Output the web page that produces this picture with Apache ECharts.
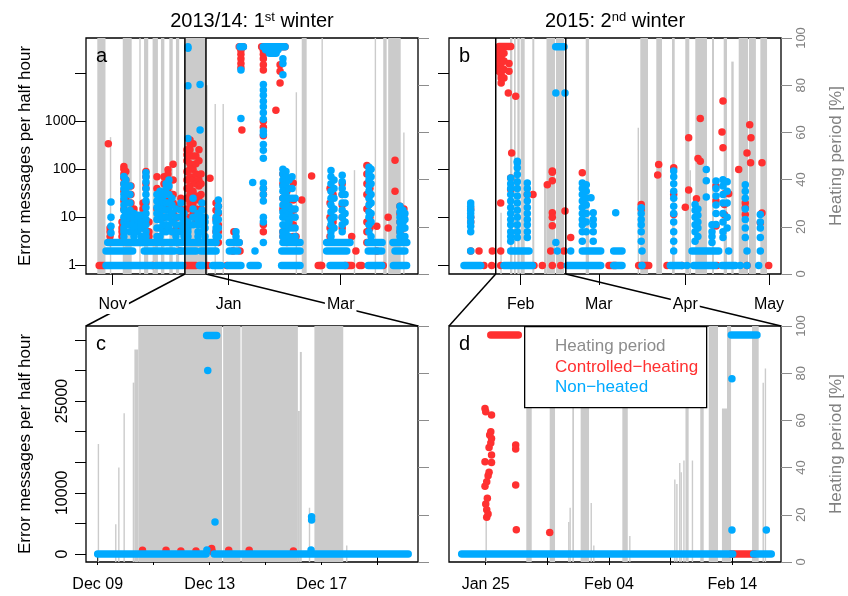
<!DOCTYPE html>
<html>
<head>
<meta charset="utf-8">
<script src="https://cdn.jsdelivr.net/npm/echarts@6/dist/echarts.min.js"></script>
<style>
  html, body { margin: 0; background: #fff; }
  #chart { width: 848px; height: 596px; }
</style>
</head>
<body>
<div id="chart"></div>
<script>
'use strict'

const DAY = 86400000
// every day number below is counted from one of these dates (UTC)
const baseA = Date.UTC(2013, 9, 1)   // panel a: days since 1 Oct 2013
const baseB = Date.UTC(2015, 0, 1)   // panel b: days since 1 Jan 2015
const baseC = Date.UTC(2013, 11, 9)  // panel c: days since 9 Dec 2013
const baseD = Date.UTC(2015, 0, 25)  // panel d: days since 25 Jan 2015

// axis windows (days) and the zoomed windows marked in a and b
const rangeA = [16.95, 191.7]
const rangeB = [5.3, 124.3]
const rangeC = [-0.418, 11.44]
const rangeD = [-2.98, 23.95]
const zoomA = [0, 11.1]      // in panel c days
const zoomB = [-1.95, 23.16] // in panel d days

const ticksA = ['2013-11-01', '2014-01-01', '2014-03-01']
const ticksB = ['2015-02-01', '2015-03-01', '2015-04-01', '2015-05-01']
const ticksC = ['2013-12-09', '2013-12-11', '2013-12-13', '2013-12-15', '2013-12-17', '2013-12-19']
const labelsC = ['2013-12-09', '2013-12-13', '2013-12-17']
const ticksD = ['2015-01-25', '2015-01-30', '2015-02-04', '2015-02-09', '2015-02-14']
const labelsD = ['2015-01-25', '2015-02-04', '2015-02-14']
const logTicks = [1, 10, 100, 1000, 10000]
const logLabels = [1, 10, 100, 1000]
const countTicks = [0, 5000, 10000, 15000, 20000, 25000, 30000, 35000]
const countLabels = [0, 10000, 25000]
const heatTicks = [0, 20, 40, 60, 80, 100]

// heating period: [startDay, endDay, percent]
const heatA = [
  [22.9, 27.2, 100], [29.5, 29.8, 58], [36.3, 41.0, 100], [45.0, 45.3, 100], [47.5, 49.7, 100],
  [52.0, 54.8, 100], [56.4, 58.2, 100], [60.8, 62.6, 100], [64.3, 66.0, 100], [68.7, 80.1, 100],
  [80.1, 81.0, 80], [84.6, 84.9, 72], [88.8, 89.1, 72], [127.3, 127.6, 77], [130.5, 133.1, 100],
  [140.9, 141.2, 100], [157.9, 158.2, 44], [168.9, 169.2, 100], [173.4, 175.2, 100],
  [176.0, 182.6, 100], [183.9, 184.2, 60]
]
const heatB = [
  [23.7, 23.95, 26], [27.16, 27.99, 100], [28.6, 29.2, 100], [29.8, 30.64, 100], [31.0, 32.43, 100],
  [35.16, 35.87, 100], [39.35, 40.25, 38], [40.25, 43.3, 100], [43.65, 46.52, 100], [54.3, 55.5, 100],
  [72.9, 73.15, 62], [73.87, 76.63, 100], [79.6, 81.65, 100], [85.23, 86.2, 100], [89.99, 91.43, 100],
  [91.5, 92.04, 44], [93.58, 97.77, 100], [99.57, 100.29, 100], [103.76, 104.94, 100],
  [106.48, 107.34, 90], [109.14, 112.47, 100], [112.8, 115.3, 100], [116.9, 119.3, 100]
]
const heatC = [
  [0.0, 0.04, 50], [0.62, 0.66, 16], [0.73, 0.77, 40], [0.92, 0.96, 63], [1.25, 1.31, 76],
  [1.31, 1.45, 90], [1.45, 4.44, 100], [4.48, 5.10, 100], [5.14, 7.15, 100], [7.15, 7.22, 64],
  [7.22, 7.29, 89], [7.54, 7.58, 23], [7.74, 8.77, 100], [8.87, 8.91, 7]
]
const heatD = [
  [-0.02, 0.02, 18], [3.29, 3.73, 100], [5.19, 5.62, 100], [6.68, 6.72, 17], [6.79, 6.83, 23],
  [7.02, 7.16, 100], [7.70, 8.38, 100], [8.50, 8.54, 25], [8.71, 8.75, 7], [11.08, 11.52, 100],
  [11.63, 11.67, 11], [15.28, 15.32, 35], [15.45, 15.49, 33], [15.68, 15.72, 42], [15.80, 15.84, 38],
  [16.02, 16.06, 43], [16.20, 16.46, 100], [16.71, 16.75, 43], [17.40, 17.68, 100], [18.09, 18.84, 100],
  [19.16, 19.57, 65], [19.57, 19.90, 100], [21.60, 22.14, 100], [22.45, 22.49, 76], [22.63, 22.67, 82]
]

// unbroken runs of half-hourly points at one level: [startDay, endDay, messages]
const redRunsA = [[23.9, 26.6, 1], [69.6, 74.8, 1], [139.2, 141.0, 1], [153.3, 156.8, 1], [97.6, 99.7, 35700], [109.4, 121.7, 35700]]
const blueRunsA = [
  [27.5, 52.0, 1], [53.8, 67.8, 1], [76.6, 78.4, 1], [83.6, 88.0, 1], [91.5, 98.5, 1], [103.3, 107.6, 1],
  [119.9, 129.6, 1], [145.4, 153.3, 1], [165.5, 172.6, 1], [178.7, 185.7, 1],
  [27.5, 41.5, 2], [47.6, 57.3, 2], [59.1, 63.4, 2], [66.1, 68.7, 2], [70.0, 74.8, 2], [77.5, 85.4, 2],
  [92.4, 96.8, 2], [120.0, 129.6, 2], [143.6, 154.2, 2], [165.5, 172.6, 2], [179.6, 184.8, 2],
  [28.4, 36.3, 3], [38.0, 51.7, 3], [53.8, 67.5, 3], [69.6, 85.4, 3], [92.4, 97.6, 3], [120.6, 129.6, 3],
  [143.6, 155.9, 3], [165.4, 172.8, 3], [178.5, 185.8, 3],
  [98.0, 99.8, 35700], [110.3, 121.7, 35700], [111.5, 118.0, 31000], [113.5, 117.0, 26000]
]
const redRunsB = [[23.22, 27.42, 36000], [62.65, 65.05, 1], [73.29, 76.88, 1]]
const blueRunsB = [
  [10.68, 16.66, 1], [25.01, 35.16, 1], [47.7, 59.67, 1], [64.33, 67.31, 1], [84.62, 88.81, 1],
  [93.0, 100.75, 1], [103.15, 107.92, 1],
  [27.42, 33.97, 2], [53.08, 59.67, 2], [64.33, 67.31, 2], [92.4, 101.97, 2],
  [43.54, 46.52, 35700]
]
const redRunsC = []
const blueRunsC = [[0.0, 3.87, 0], [4.16, 11.09, 0], [3.89, 4.25, 35700]]
const redRunsD = [[19.9, 21.8, 0], [0.41, 2.64, 35800]]
const blueRunsD = [[-1.95, 20.03, 0], [21.73, 23.16, 0], [19.92, 22.0, 35800]]

// single points, grouped by time: [day, [messages, ...]]
const redPtsA = [
  [28.7, [339]], [29.6, [6, 5, 4, 3]], [35.9, [8, 6, 5, 4]], [36.9, [114, 100, 80, 65, 50, 35, 22, 15]],
  [37.9, [90, 60, 40, 25]], [40.6, [45, 30, 20, 12, 8]], [42.2, [15, 12, 6]], [47.0, [20, 15, 9, 6]],
  [48.5, [90, 70, 50, 40, 20]], [50.1, [8, 5, 4]], [52.0, [1]], [54.3, [70, 40, 15]],
  [58.0, [70, 50, 30, 20, 10, 6]], [60.1, [98, 80, 60, 40, 25, 15]], [62.8, [128, 60, 30, 20, 12, 8, 5]],
  [64.7, [17, 10, 6]], [66.4, [2]], [66.9, [25, 15, 6]], [70.1, [255, 200, 150, 90, 60, 40, 25, 15, 10, 7, 5]],
  [71.7, [408, 339, 255, 190, 130, 100, 70, 45, 30, 20]], [73.3, [340, 190, 100, 60, 35, 20, 12]],
  [74.8, [190, 130, 80, 50, 28, 15, 8]], [76.4, [255, 150, 60, 45, 23]], [77.5, [80, 50, 30, 15, 10]],
  [81.0, [1]], [82.2, [65]], [85.4, [20, 14, 9, 5]], [86.6, [17, 12, 7, 5, 3]], [91.0, [1]],
  [94.3, [2]], [94.8, [5, 3]], [96.4, [3]], [97.5, [3]], [98.0, [2]],
  [98.5, [30000, 25000, 20000, 16000, 13000]], [99.0, [660]],
  [110.3, [30000, 25000, 20000, 15000, 11700, 1000, 750, 500, 40, 30, 7, 5]],
  [116.9, [1700]], [119.1, [15000, 11000, 6300]], [120.6, [80, 50, 25, 15, 5, 4]],
  [122.7, [60, 35, 20, 10, 6, 3]], [126.0, [52, 23, 14, 7, 4]], [127.5, [4]], [130.5, [23]],
  [135.7, [73]], [140.5, [1]], [145.4, [40, 20, 10, 6, 4]], [147.0, [30, 15, 8]],
  [151.8, [50, 30, 18, 10, 6]], [156.8, [4]], [159.0, [2]], [161.0, [1]], [162.0, [1]],
  [164.8, [120, 80, 50, 30, 15, 8, 5, 3]], [166.4, [40, 20, 10, 6]], [170.0, [6.5, 2]],
  [173.4, [1]], [176.0, [10, 6]], [179.6, [155, 35]], [182.2, [17, 12, 8, 5]], [184.3, [15, 10, 6]]
]
const bluePtsA = [
  [30.1, [21, 10, 6.5, 4.7]], [36.9, [71, 50, 40, 30, 25, 18, 14, 10, 8, 6, 5, 4]],
  [37.9, [60, 45, 35, 20, 12, 9, 7]], [40.1, [45, 30, 20, 14, 10, 7, 5]], [42.2, [12, 10, 8, 6, 5, 4]],
  [44.3, [11, 9, 7, 5]], [45.9, [11, 8, 6, 4]], [48.5, [85, 70, 55, 40, 30, 22, 16, 12, 9, 7, 5, 4]],
  [54.3, [30, 22, 16, 12, 9, 6, 4]], [55.9, [35, 25, 18, 13, 9, 6, 4]], [57.5, [30, 22, 15, 10, 7, 5]],
  [59.1, [50, 40, 30, 20, 14, 10, 7, 5]], [60.6, [60, 45, 30, 20, 14, 10, 6]], [62.2, [25, 18, 12, 8, 5]],
  [64.3, [15, 10, 7, 5, 4]], [66.9, [20, 14, 10, 7, 5]], [68.5, [12, 9, 6, 4]],
  [70.6, [35700, 33000, 5500, 440, 8, 6, 5, 4]], [73.3, [25, 15, 10, 7]], [75.9, [12, 9, 7, 5, 4]],
  [77.0, [5800, 660]], [78.0, [20, 14, 10, 7, 5]], [79.6, [10, 8, 6, 4]], [85.4, [10, 8, 6, 5, 4]],
  [86.6, [23, 17, 13, 9, 6, 4]], [95.9, [5, 4]], [98.5, [11700, 1150]], [104.7, [53]], [105.9, [2]],
  [110.3, [5800, 4500, 3500, 2600, 2000, 1500, 1100, 630, 530, 330, 250, 170, 52, 40, 30, 22, 10, 8, 3]],
  [120.6, [20000, 16000, 9300, 100, 80, 60, 45, 35, 25, 18, 13, 10, 7, 5, 4]],
  [122.2, [90, 70, 50, 30, 20, 14, 10, 7, 5]], [123.8, [60, 40, 25, 17, 12, 8, 6, 4]],
  [125.4, [70, 40, 25, 15, 10, 6]], [127.0, [25, 15, 10, 6, 4]],
  [145.9, [95, 70, 50, 35, 25, 18, 13, 9, 7, 5, 4]], [147.5, [60, 40, 25, 15, 10, 6]],
  [151.8, [75, 55, 40, 30, 20, 14, 10, 7, 5]], [153.3, [30, 20, 12, 8]],
  [165.9, [110, 90, 75, 60, 45, 35, 25, 18, 13, 10, 7, 5]], [167.0, [100, 70, 50, 30, 20, 12, 8, 4]],
  [182.2, [17, 13, 10, 8, 6, 5, 4]], [183.8, [14, 11, 8, 6, 4]], [184.8, [12, 9, 6, 4]]
]
const redPtsB = [
  [13.08, [15, 10, 8, 2]], [16.06, [2]], [17.85, [1]], [20.61, [1]], [20.82, [2]], [23.83, [20, 2, 1]],
  [23.2, [28600, 24000, 20800, 17500, 15200, 13000, 11000]], [24.0, [30000, 22000, 16000, 12000, 9500, 8000, 6300]],
  [25.0, [26000, 18000, 12000, 8000]], [26.8, [16000, 11000]], [26.56, [3890]], [29.21, [3330]],
  [27.77, [220]], [27.42, [66, 38]], [33.37, [30]], [35.41, [30]], [35.77, [1]], [38.74, [1]],
  [40.53, [48]], [41.75, [2]], [42.33, [92, 87, 58, 12.4, 10, 6.7, 1]], [45.34, [1]], [46.52, [2]],
  [46.88, [13.5]], [48.92, [3.8]], [53.08, [85]], [74.2, [18.5, 14.6]], [80.1, [76]], [80.46, [126]],
  [83.44, [1]], [85.84, [108, 30, 11.5]], [88.81, [1]], [90.0, [16.3]], [91.21, [455, 37]],
  [94.0, [24.4, 14.6]], [94.55, [168]], [95.37, [1140, 148]], [101.0, [44.7, 21.8, 6.6]],
  [101.36, [1]], [103.15, [595]], [103.51, [2630, 280]], [104.0, [31, 18.5, 11.4]], [105.55, [31]],
  [109.14, [99]], [111.5, [20, 16, 11.5]], [112.11, [220, 1]], [113.08, [850]], [113.4, [137]],
  [113.54, [455]], [116.88, [7.7]], [117.48, [137, 12.3]], [119.89, [1]]
]
const bluePtsB = [
  [13.08, [20, 17, 14, 12, 10, 8, 6.5, 5, 2]], [27.42, [66, 50, 40, 30, 22, 16, 12, 9, 7, 5, 4, 3.2]],
  [29.78, [148, 137, 108, 78, 55, 40, 28, 20, 14, 10, 7, 5, 3.8]], [33.37, [52, 40, 30, 22, 16, 12, 9, 7, 5, 3.8]],
  [43.6, [3890, 3]], [44.12, [2]], [46.88, [3890]], [48.92, [2]],
  [53.08, [52, 40, 30, 22, 16, 12, 9, 7, 5, 3.2]], [54.5, [48, 35, 25, 18, 12, 8, 5]], [56.2, [25.6]],
  [57.0, [12.4, 9, 7, 5, 3.2]], [65.05, [12.4]], [74.2, [15.8, 12, 9, 7, 5, 3.2]], [74.48, [1, 2]],
  [85.84, [92, 70, 50, 35, 25, 17, 12, 8, 5, 3.2, 2]], [90.61, [1]], [93.5, [18.5, 14, 10, 7, 5, 3.2]],
  [94.5, [15, 11, 8, 6, 4]], [97.52, [99, 58, 26.5]], [99.57, [7, 5, 4, 3]], [101.0, [57, 40, 28, 18, 12, 7.1]],
  [103.5, [61, 45, 30, 20, 12, 8, 5, 3.8]], [105.0, [55, 35, 20, 10, 6]], [105.55, [2]],
  [109.71, [1]], [111.5, [48, 35, 25, 15, 9, 6, 3.8]], [112.11, [1, 2]], [116.3, [1]],
  [116.88, [11.5, 8, 6, 3.8, 2]]
]
const redPtsC = [
  [1.6, [600]], [2.44, [600]], [2.97, [500]], [3.51, [500]], [4.07, [900]], [4.09, [400]],
  [4.68, [600]], [5.41, [600]], [6.99, [500]]
]
const bluePtsC = [[3.93, [30000]], [4.19, [5230]], [3.90, [650]], [7.64, [6100, 5560]], [7.62, [650]]]
const redPtsD = [
  [-0.06, [23790, 15080, 11050]], [0.0, [23250, 8170]], [0.08, [11810, 7240, 5990]], [0.13, [9090]],
  [0.19, [12790, 6530]], [0.27, [17420, 13340]], [0.32, [19440]], [0.41, [19980, 18130]],
  [0.47, [22710, 18890, 16170, 14970]], [2.43, [17810, 17160, 11270]], [2.48, [3970]], [5.19, [3530]]
]
const bluePtsD = [[19.97, [28640, 3920]], [22.76, [3920]]]

const RED = '#ff3030'
const BLUE = '#00aaff'
const GREY = '#cbcbcb'
const MON = ['Jan', 'Feb', 'Mar', 'Apr', 'May', 'Jun', 'Jul', 'Aug', 'Sep', 'Oct', 'Nov', 'Dec']
const FONT = 'Liberation Sans, Arial, sans-serif'

const grids = [
  { left: 86, top: 38, width: 332, height: 236 },
  { left: 449, top: 38, width: 332, height: 236 },
  { left: 86, top: 326, width: 332, height: 236 },
  { left: 449, top: 326, width: 332, height: 236 }
]

const day = (base, d) => base + d * DAY
const dates = list => list.map(s => Date.parse(s))
const monthLabel = v => MON[new Date(v).getUTCMonth()]
const dayLabel = v => {
  const d = new Date(v)
  return MON[d.getUTCMonth()] + ' ' + String(d.getUTCDate()).padStart(2, '0')
}

function points (base, list) {
  const out = []
  list.forEach(([d, vals]) => vals.forEach(v => out.push([day(base, d), v])))
  return out
}
function spans (base, list) {
  return list.map(([a, b, v]) => [day(base, a), day(base, b), v])
}

function heatSeries (i, base, list) {
  return {
    type: 'custom', xAxisIndex: i, yAxisIndex: 2 * i + 1, z: 1, silent: true,
    encode: { x: [0, 1], y: 2 },
    data: spans(base, list),
    renderItem (params, api) {
      const p0 = api.coord([api.value(0), 0])
      const p1 = api.coord([api.value(1), api.value(2)])
      const w = Math.max(p1[0] - p0[0], 1.4)
      const rect = echarts.graphic.clipRectByRect(
        { x: p0[0], y: p1[1], width: w, height: p0[1] - p1[1] }, params.coordSys)
      return rect && { type: 'rect', shape: rect, style: { fill: GREY } }
    }
  }
}
function runSeries (i, base, list, color, z) {
  return {
    type: 'custom', xAxisIndex: i, yAxisIndex: 2 * i, z, silent: true,
    encode: { x: [0, 1], y: 2 },
    data: spans(base, list),
    renderItem (params, api) {
      const p0 = api.coord([api.value(0), api.value(2)])
      const p1 = api.coord([api.value(1), api.value(2)])
      return {
        type: 'line',
        shape: { x1: p0[0], y1: p0[1], x2: p1[0], y2: p1[1] },
        style: { stroke: color, lineWidth: 7.5, lineCap: 'round' }
      }
    }
  }
}
function dotSeries (i, base, list, color, z) {
  return {
    type: 'scatter', xAxisIndex: i, yAxisIndex: 2 * i, z, silent: true,
    symbolSize: 7.5, itemStyle: { color, opacity: 1 },
    data: points(base, list)
  }
}

// dates are plain millisecond numbers on a value axis
function xAxis (i, base, range, ticks, labels, fmt, margin) {
  return {
    type: 'value', gridIndex: i, min: day(base, range[0]), max: day(base, range[1]),
    axisLine: { show: false }, splitLine: { show: false },
    axisTick: { show: true, length: 11, customValues: dates(ticks), lineStyle: { color: '#000' } },
    axisLabel: {
      customValues: dates(labels), formatter: fmt, margin, fontSize: 16, color: '#000',
      fontFamily: FONT, backgroundColor: '#fff', padding: [1, 2]
    }
  }
}
function heatAxis (i, withLabels) {
  const ax = {
    type: 'value', gridIndex: i, position: 'right', min: 0, max: 100,
    axisLine: { show: false }, splitLine: { show: false },
    axisTick: { length: 11, customValues: heatTicks, lineStyle: { color: '#8c8c8c' } },
    axisLabel: { show: false }
  }
  if (withLabels) {
    ax.axisLabel = { customValues: heatTicks, rotate: 90, margin: 14, fontSize: 13, color: '#808080', fontFamily: FONT }
    ax.name = 'Heating period [%]'
    ax.nameLocation = 'middle'
    ax.nameRotate = 90
    ax.nameGap = 47
    ax.nameTextStyle = { fontSize: 17, color: '#808080', fontFamily: FONT }
  }
  return ax
}
const errorName = {
  name: 'Error messages per half hour', nameLocation: 'middle', nameRotate: 90, nameGap: 52,
  nameTextStyle: { fontSize: 17, color: '#000', fontFamily: FONT }
}
function logAxis (i, withLabels) {
  return Object.assign({
    type: 'log', gridIndex: i, logBase: 10, min: 0.662, max: 54200,
    axisLine: { show: false }, splitLine: { show: false },
    axisTick: { length: 11, customValues: logTicks, lineStyle: { color: '#000' } },
    axisLabel: withLabels
      ? { customValues: logLabels, fontSize: 14, color: '#000', margin: 10, fontFamily: FONT, formatter: v => String(Math.round(v)) }
      : { show: false }
  }, withLabels ? errorName : {})
}
function countAxis (i, withLabels) {
  return Object.assign({
    type: 'value', gridIndex: i, min: -1307, max: 37255,
    axisLine: { show: false }, splitLine: { show: false },
    axisTick: withLabels
      ? { length: 11, customValues: countTicks, lineStyle: { color: '#000' } }
      : { show: false },
    axisLabel: withLabels
      ? { customValues: countLabels, rotate: 90, margin: 15, fontSize: 16, color: '#000', fontFamily: FONT, formatter: v => String(v) }
      : { show: false }
  }, withLabels ? errorName : {})
}

const titleRich = {
  n: { fontSize: 20, color: '#000', fontWeight: 'normal', fontFamily: FONT },
  s: { fontSize: 13, color: '#000', fontWeight: 'normal', fontFamily: FONT, verticalAlign: 'top' }
}
const letter = (text, left, top) => ({
  text, left, top, padding: 0,
  textStyle: { fontSize: 20, fontWeight: 'normal', color: '#000', fontFamily: FONT }
})

const option = {
  animation: false,
  textStyle: { fontFamily: FONT },
  title: [
    { text: '{n|2013/14: 1}{s|st}{n| winter}', left: 252, top: 11, textAlign: 'center', padding: 0, textStyle: { rich: titleRich } },
    { text: '{n|2015: 2}{s|nd}{n| winter}', left: 615, top: 11, textAlign: 'center', padding: 0, textStyle: { rich: titleRich } },
    letter('a', 96, 46), letter('b', 459, 46), letter('c', 96, 334), letter('d', 459, 334)
  ],
  grid: grids.map(g => Object.assign({ show: true, borderColor: '#000', borderWidth: 1.3, backgroundColor: 'transparent' }, g)),
  xAxis: [
    xAxis(0, baseA, rangeA, ticksA, ticksA, monthLabel, 22),
    xAxis(1, baseB, rangeB, ticksB, ticksB, monthLabel, 22),
    xAxis(2, baseC, rangeC, ticksC, labelsC, dayLabel, 14),
    xAxis(3, baseD, rangeD, ticksD, labelsD, dayLabel, 14)
  ],
  yAxis: [
    logAxis(0, true), heatAxis(0, false),
    logAxis(1, false), heatAxis(1, true),
    countAxis(2, true), heatAxis(2, false),
    countAxis(3, false), heatAxis(3, true)
  ],
  series: [
    heatSeries(0, baseA, heatA), runSeries(0, baseA, redRunsA, RED, 2), dotSeries(0, baseA, redPtsA, RED, 2),
    runSeries(0, baseA, blueRunsA, BLUE, 3), dotSeries(0, baseA, bluePtsA, BLUE, 3),
    heatSeries(1, baseB, heatB), runSeries(1, baseB, redRunsB, RED, 2), dotSeries(1, baseB, redPtsB, RED, 2),
    runSeries(1, baseB, blueRunsB, BLUE, 3), dotSeries(1, baseB, bluePtsB, BLUE, 3),
    heatSeries(2, baseC, heatC), runSeries(2, baseC, redRunsC, RED, 2), dotSeries(2, baseC, redPtsC, RED, 2),
    runSeries(2, baseC, blueRunsC, BLUE, 3), dotSeries(2, baseC, bluePtsC, BLUE, 3),
    heatSeries(3, baseD, heatD), runSeries(3, baseD, redRunsD, RED, 2), dotSeries(3, baseD, redPtsD, RED, 2),
    runSeries(3, baseD, blueRunsD, BLUE, 3), dotSeries(3, baseD, bluePtsD, BLUE, 3)
  ]
}

const chart = echarts.init(document.getElementById('chart'), null, { renderer: 'canvas' })
chart.setOption(option)

// zoom markers in a and b, connectors to c and d, legend in d
const graphic = []
function connect (axisIdx, base, win) {
  const x0 = chart.convertToPixel({ xAxisIndex: axisIdx }, day(base, win[0]))
  const x1 = chart.convertToPixel({ xAxisIndex: axisIdx }, day(base, win[1]))
  const g0 = grids[axisIdx], g1 = grids[axisIdx + 2]
  const line = (ax, ay, bx, by, z) => ({
    type: 'line', z, silent: true,
    shape: { x1: ax, y1: ay, x2: bx, y2: by },
    style: { stroke: '#000', lineWidth: 1.5 }
  })
  graphic.push(line(x0, g0.top, x0, g0.top + g0.height, 100))
  graphic.push(line(x1, g0.top, x1, g0.top + g0.height, 100))
  graphic.push(line(x0, g0.top + g0.height, g1.left, g1.top, -1))
  graphic.push(line(x1, g0.top + g0.height, g1.left + g1.width, g1.top, -1))
}
connect(0, baseC, zoomA)
connect(1, baseD, zoomB)

const legendItems = [
  ['Heating period', '#8c8c8c'],
  ['Controlled\u2212heating', RED],
  ['Non\u2212heated', BLUE]
]
graphic.push({
  type: 'rect', left: 524, top: 326, z: 100, silent: true,
  shape: { x: 0, y: 0, width: 182, height: 81 },
  style: { fill: '#fff', stroke: '#000', lineWidth: 1.3 }
})
legendItems.forEach(([text, color], k) => {
  graphic.push({
    type: 'text', x: 555, y: 346.7 + k * 20.5, z: 101, silent: true,
    style: { text, fill: color, fontSize: 17, fontFamily: FONT, verticalAlign: 'middle' }
  })
})
chart.setOption({ graphic })
</script>
</body>
</html>
